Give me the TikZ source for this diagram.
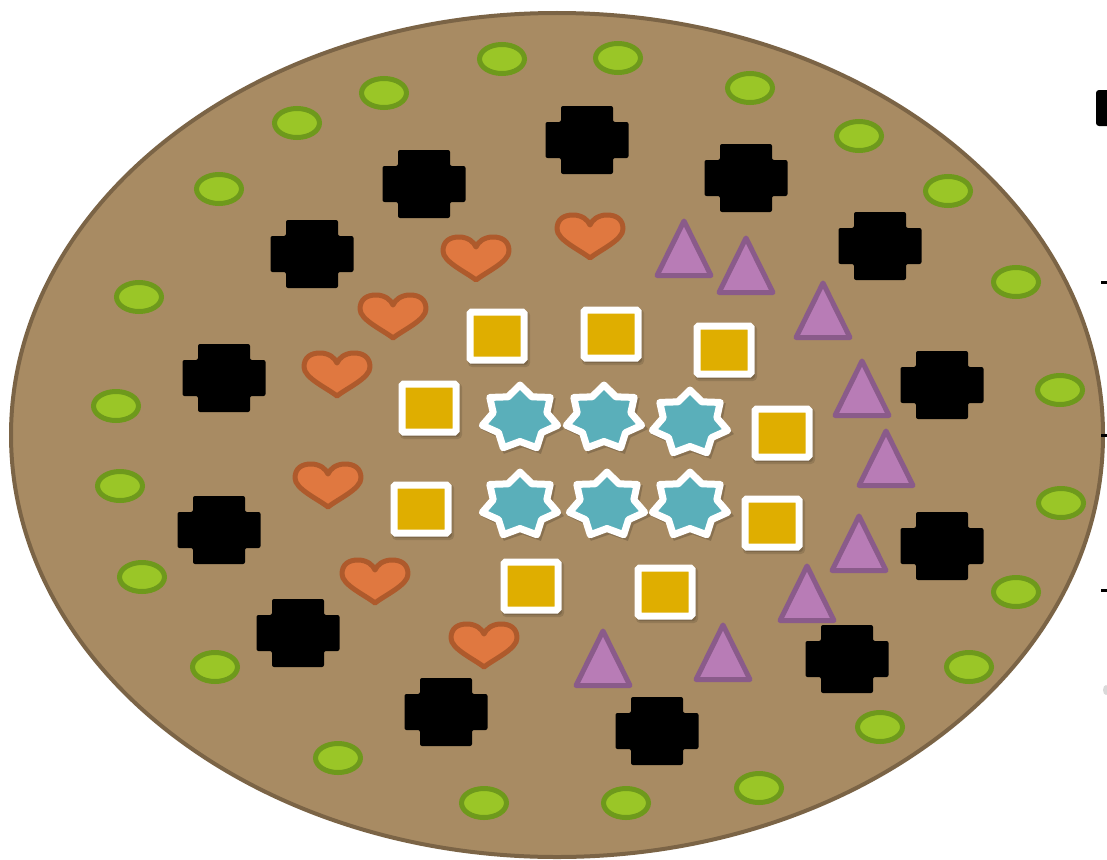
\documentclass[tikz,border=0pt]{standalone}
\usetikzlibrary{calc}
\definecolor{tanfill}{RGB}{168,139,99}
\definecolor{tanline}{RGB}{123,100,70}
\definecolor{grnfill}{RGB}{154,198,39}
\definecolor{grnline}{RGB}{110,153,28}
\definecolor{hrtfill}{RGB}{224,120,64}
\definecolor{hrtline}{RGB}{174,90,44}
\definecolor{trifill}{RGB}{184,124,182}
\definecolor{triline}{RGB}{138,91,138}
\definecolor{sqfill}{RGB}{223,174,0}
\definecolor{stfill}{RGB}{90,175,186}
\tikzset{
  dotshape/.pic={\draw[line width=5pt, draw=grnline, fill=grnfill] (0,0) ellipse [x radius=22.5pt, y radius=14.5pt];},
  crossshape/.pic={\fill[black, rounded corners=2pt] (-26,-34) -- (26,-34) -- (26,-18) -- (41.5,-18) -- (41.5,18) -- (26,18) -- (26,34) -- (-26,34) -- (-26,18) -- (-41.5,18) -- (-41.5,-18) -- (-26,-18) -- cycle;},
  heartshape/.pic={\draw[line width=5pt, draw=hrtline, fill=hrtfill, line join=round]
     (0,21) .. controls (-10,13) and (-33,3) .. (-33,-8) .. controls (-33,-18) and (-26,-22) .. (-17,-22)
     .. controls (-8,-22) and (-2,-17) .. (0,-12) .. controls (2,-17) and (8,-22) .. (17,-22)
     .. controls (26,-22) and (33,-18) .. (33,-8) .. controls (33,3) and (10,13) .. (0,21) -- cycle;},
  trishape/.pic={\draw[line width=5pt, draw=triline, fill=trifill, line join=round] (0,-28) -- (27,26.5) -- (-27,26.5) -- cycle;},
  sqshape/.pic={
     \fill[black, opacity=0.12, rounded corners=4pt] (-29,-25) rectangle (33,31);
     \fill[black, opacity=0.15, rounded corners=3pt] (-28,-25) rectangle (31,29);
     \draw[line width=7pt, draw=white, fill=sqfill, rounded corners=1.5pt] (-27,-24) rectangle (27,24);},
  starshape/.pic={
     \fill[black, opacity=0.18, xscale=1.17, shift={(2,3)}] (-90:36.5) \foreach \k [evaluate=\k as \r using {36.5-10*mod(\k,2)}] in {1,...,13}{ -- ({-90+\k*360/14}:\r) } -- cycle;
     \draw[line width=7pt, draw=white, fill=stfill, line join=round, xscale=1.17] (-90:33) \foreach \k [evaluate=\k as \r using {33-9.5*mod(\k,2)}] in {1,...,13}{ -- ({-90+\k*360/14}:\r) } -- cycle;},
}
\begin{document}
\begin{tikzpicture}[x=1pt,y=-1pt]
\useasboundingbox (0,0) rectangle (1107,859);
\fill[white] (0,0) rectangle (1107,859);
% main ellipse
\draw[line width=4pt, draw=tanline, fill=tanfill] (557,435) ellipse [x radius=546pt, y radius=422pt];
% green dots
\foreach \p in {(502,59),(618,58),(384,93),(750,88),(297,123),(859,136),(219,189),(948,191),(139,297),(1016,282),(116,406),(1060,390),(120,486),(1061,503),(142,577),(1016,592),(215,667),(969,667),(338,758),(880,727),(484,803),(626,803),(759,788)}
  \pic at \p {dotshape};
% black crosses
\foreach \p in {(587,140),(746,178),(424,184),(312,254),(880,246),(224,378),(942,385),(219,530),(942,546),(298,633),(847,659),(446,712),(657,731)}
  \pic at \p {crossshape};
% hearts
\foreach \p in {(590,237),(476,259),(393,317),(337,375),(328,486),(375,582),(484,646)}
  \pic at \p {heartshape};
% triangles
\foreach \p in {(684,249),(746,266),(823,311),(862,389),(886,459),(859,544),(807,594),(603,659),(723,653)}
  \pic at \p {trishape};
% squares
\foreach \p in {(497,336),(611,334),(724,350),(429,408),(782,433),(421,509),(772,523),(531,586),(665,592)}
  \pic at \p {sqshape};
% stars
\foreach \p in {(520,418),(604,418),(690,423),(520,505),(607,505),(690,505)}
  \pic at \p {starshape};
% cropped fragments at the right edge
\fill[black, rounded corners=3pt] (1096,90) rectangle (1112,126);
\foreach \yy in {282,435,590}
  \fill[black] (1101,\yy-1.5) rectangle (1108,\yy+1.5);
\fill[black!15] (1106,690) ellipse [x radius=3pt, y radius=5pt];
\end{tikzpicture}
\end{document}
